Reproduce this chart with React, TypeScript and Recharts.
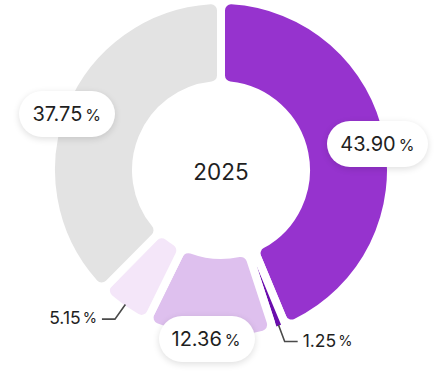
import React from 'react';
import { PieChart, Pie, Cell } from 'recharts';

const categories = ['Slice A', 'Slice B', 'Slice C', 'Slice D', 'Slice E'];
const values = [43.9, 1.25, 12.36, 5.15, 37.75];
const colors = ['#9633CE', '#6A0DAD', '#DEC0EE', '#F4E6F9', '#E3E3E3'];
const centerLabel = '2025';

const data = categories.map((name, i) => ({ name, value: values[i] }));

const FONT = 'Inter, Roboto, sans-serif';
const TEXT = '#1f1f1f';
const RAD = Math.PI / 180;

function renderLabel(props: any) {
  const { cx, cy, midAngle, outerRadius, value, index } = props;
  const cos = Math.cos(-midAngle * RAD);
  const sin = Math.sin(-midAngle * RAD);
  const txt = Number(value).toFixed(2);
  const center =
    index === 0 ? (
      <text
        x={cx}
        y={cy + 1}
        textAnchor="middle"
        dominantBaseline="central"
        fill={TEXT}
        fontSize={22.5}
        fontFamily={FONT}
      >
        {centerLabel}
      </text>
    ) : null;
  if (value >= 10) {
    const r = outerRadius - 7;
    const x = cx + r * cos - 3;
    const y = cy + r * sin + 6;
    const w = 170;
    const h = 70;
    return (
      <g key={`pill-${index}`}>
        {center}
        <foreignObject x={x - w / 2} y={y - h / 2} width={w} height={h}>
          <div
            style={{
              width: w,
              height: h,
              display: 'flex',
              alignItems: 'center',
              justifyContent: 'center',
            }}
          >
            <div
              style={{
                background: '#fff',
                borderRadius: 23,
                height: 46,
                padding: '0 14px 0 13px',
                display: 'flex',
                alignItems: 'baseline',
                boxSizing: 'border-box',
                boxShadow: '0 2px 7px rgba(0,0,0,0.13)',
                fontFamily: FONT,
                color: TEXT,
                whiteSpace: 'nowrap',
                lineHeight: '46px',
              }}
            >
              <span style={{ fontSize: 20 }}>{txt}</span>
              <span style={{ fontSize: 16, marginLeft: 3 }}>%</span>
            </div>
          </div>
        </foreignObject>
      </g>
    );
  }
  const r0 = outerRadius - 5;
  const r1 = outerRadius + 13;
  const sx = cx + r0 * cos;
  const sy = cy + r0 * sin;
  const mx = cx + r1 * cos;
  const my = cy + r1 * sin;
  const dir = cos >= 0 ? 1 : -1;
  const ex = mx + dir * 13;
  return (
    <g key={`small-${index}`}>
      {center}
      <path d={`M${sx},${sy}L${mx},${my}L${ex},${my}`} stroke="#4a4a4a" strokeWidth={1.6} fill="none" />
      <text
        x={ex + dir * 5}
        y={my - 2}
        textAnchor={dir > 0 ? 'start' : 'end'}
        dominantBaseline="central"
        fill={TEXT}
        fontFamily={FONT}
      >
        <tspan fontSize={17.5}>{txt}</tspan>
        <tspan fontSize={14.5} dx={2}>%</tspan>
      </text>
    </g>
  );
}

export default function App() {
  return (
    <div style={{ position: 'absolute', left: 0, top: 0, width: 442, height: 375, background: '#fff' }}>
      <PieChart width={442} height={375} margin={{ top: 0, right: 0, bottom: 0, left: 0 }}>
        <Pie
          data={data}
          dataKey="value"
          nameKey="name"
          cx={221}
          cy={170}
          innerRadius={85}
          outerRadius={170}
          startAngle={90}
          endAngle={-270}
          cornerRadius={10}
          stroke="#ffffff"
          strokeWidth={8}
          label={renderLabel}
          labelLine={false}
          isAnimationActive={false}
        >
          {data.map((d, i) => (
            <Cell key={d.name} fill={colors[i]} stroke="#ffffff" strokeWidth={8} />
          ))}
        </Pie>
      </PieChart>
    </div>
  );
}
